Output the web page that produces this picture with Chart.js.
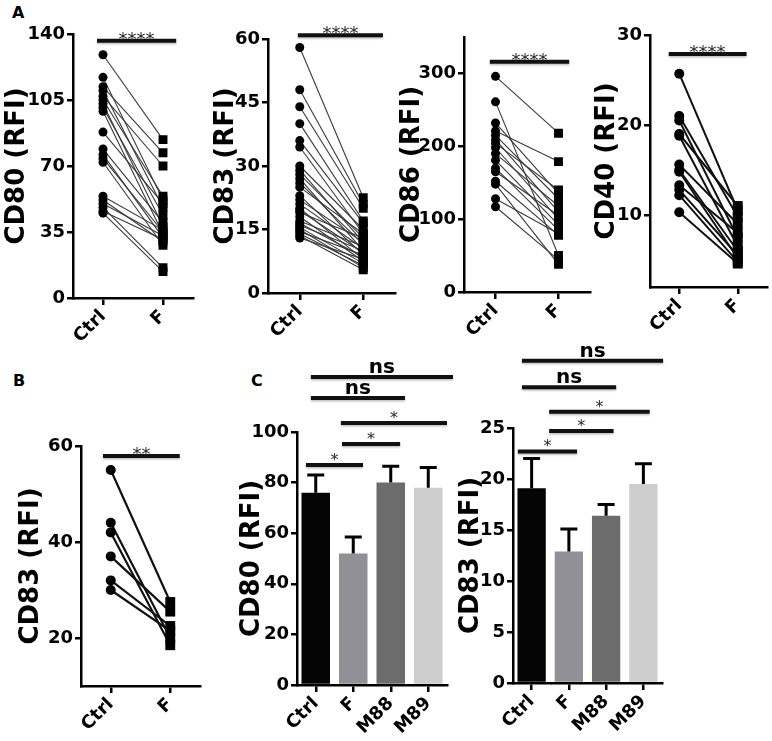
<!DOCTYPE html>
<html>
<head>
<meta charset="utf-8">
<title>RFI panels</title>
<script src="https://cdn.jsdelivr.net/npm/chart.js@4.4.1/dist/chart.umd.min.js"></script>
<style>
  body { margin: 0; background: #fff; width: 772px; height: 741px; position: relative; overflow: hidden; }
  canvas { position: absolute; }
  .tag { position: absolute; font: bold 16px 'DejaVu Sans', sans-serif; color: #000; }
</style>
</head>
<body>
<div class="tag" style="left:12px;top:3px">A</div>
<div class="tag" style="left:13px;top:371px">B</div>
<div class="tag" style="left:251px;top:371px">C</div>

<canvas id="a1"></canvas>
<canvas id="a2"></canvas>
<canvas id="a3"></canvas>
<canvas id="a4"></canvas>
<canvas id="b1"></canvas>
<canvas id="c1"></canvas>
<canvas id="c2"></canvas>

<script>
// ---- data ----
const pairLabels = ['Ctrl', 'F'];
const groupLabels = ['Ctrl', 'F', 'M88', 'M89'];

const cd80Ctrl = [129, 117, 112, 110, 107, 105, 103, 101, 99, 88, 79, 76, 74, 72, 54, 52, 50, 48, 46, 45];
const cd80F    = [84, 52, 77, 48, 70, 54, 38, 44, 34, 50, 40, 32, 35, 28, 36, 30, 33, 16, 31, 14];

const cd83Ctrl = [58, 48, 44, 40, 36, 34.5, 30, 29, 28, 27, 26, 25, 23, 22, 21, 20, 19.5, 19, 18, 17, 16.5, 16, 15.5, 15, 14.5, 14, 13.5, 13];
const cd83F    = [22.5, 21, 20, 17, 16.5, 14, 15, 12, 13, 10, 11.5, 14, 9, 12, 10.5, 8, 9.5, 13, 7.5, 11, 8.5, 10, 7, 6, 9, 6.5, 5.5, 8];

const cd86Ctrl = [296, 261, 232, 221, 215, 209, 204, 198, 190, 181, 170, 165, 152, 148, 128, 117];
const cd86F    = [218, 50, 135, 179, 128, 110, 140, 100, 118, 92, 85, 105, 78, 38, 80, 44];

const cd40Ctrl = [25.7, 21, 20.5, 19, 18.8, 15.6, 15, 14.8, 13.3, 12.8, 12.2, 10.3];
const cd40F    = [10.5, 9.8, 7.5, 11, 6.5, 9, 6, 5.2, 8, 5.5, 4.8, 4.6];

const cd83bCtrl = [55, 44, 42, 37, 32, 30];
const cd83bF    = [27.5, 20, 18.5, 25.5, 22.5, 21.5];

const cd80Mean = [76, 52, 80, 78];
const cd80Sem  = [7, 6.5, 6.5, 8];
const cd83Mean = [19.1, 12.9, 16.4, 19.5];
const cd83Sem  = [2.9, 2.2, 1.1, 2.0];

const cd80Ticks  = [0, 35, 70, 105, 140];
const cd83Ticks  = [0, 15, 30, 45, 60];
const cd86Ticks  = [0, 100, 200, 300];
const cd40Ticks  = [10, 20, 30];
const cd83bTicks = [20, 40, 60];
const cCd80Ticks = [0, 20, 40, 60, 80, 100];
const cCd83Ticks = [0, 5, 10, 15, 20, 25];

const pairSig = ['****', '****', '****', '****', '**'];
const groupSig = ['ns', 'ns', '*', '*', '*'];

// ---- look ----
const FONT = "'DejaVu Sans', sans-serif";
const TITLE_SIZE = 26;
const TICK_SIZE = 18;
const X_H = 50;      // height kept for rotated x labels
const PAD_R = 12;
const barColors = ['#050505', '#909096', '#6c6c6c', '#cecece'];

// significance bars, drawn through the scales
const sigPlugin = {
  id: 'sig',
  afterDraw(chart, args, opts) {
    const bars = opts.bars || [];
    const {ctx, scales: {x, y}} = chart;
    ctx.save();
    bars.forEach(b => {
      const x0 = x.getPixelForValue(b.from);
      const x1 = x.getPixelForValue(b.to);
      const py = y.getPixelForValue(b.at);
      ctx.strokeStyle = '#111';
      ctx.lineWidth = 4;
      ctx.shadowColor = 'rgba(0,0,0,0.25)';
      ctx.shadowBlur = 2;
      ctx.shadowOffsetY = 1.5;
      ctx.beginPath();
      ctx.moveTo(x0, py);
      ctx.lineTo(x1, py);
      ctx.stroke();
      ctx.shadowColor = 'transparent';
      const isStar = b.label.indexOf('*') === 0;
      ctx.fillStyle = isStar ? '#2a2a2a' : '#000';
      ctx.font = isStar ? (opts.starFont || ('16px ' + FONT)) : ('bold 20px ' + FONT);
      ctx.textAlign = 'center';
      ctx.textBaseline = 'alphabetic';
      ctx.fillText(b.label, (x0 + x1) / 2, py + (isStar ? (opts.starDy || 0) : -4));
    });
    ctx.restore();
  }
};

// error bars (mean + SEM) on top of each bar
const errPlugin = {
  id: 'err',
  afterDatasetsDraw(chart, args, opts) {
    if (!opts.sem) return;
    const {ctx, scales: {y}} = chart;
    const meta = chart.getDatasetMeta(0);
    const means = chart.data.datasets[0].data;
    ctx.save();
    ctx.strokeStyle = '#000';
    ctx.lineWidth = 3;
    meta.data.forEach((bar, i) => {
      const top = y.getPixelForValue(means[i] + opts.sem[i]);
      ctx.beginPath();
      ctx.moveTo(bar.x, bar.y);
      ctx.lineTo(bar.x, top);
      ctx.moveTo(bar.x - 8.5, top);
      ctx.lineTo(bar.x + 8.5, top);
      ctx.stroke();
    });
    ctx.restore();
  }
};

function yScale(min, max, ticks, title, width) {
  return {
    min: min,
    max: max,
    afterBuildTicks: s => { s.ticks = ticks.map(v => ({value: v})); },
    afterFit: s => { s.width = width; },
    border: {color: '#000', width: 2.5},
    grid: {drawOnChartArea: false, drawTicks: true, tickLength: 6, color: '#000', lineWidth: 2.5},
    ticks: {color: '#000', padding: 2, font: {family: FONT, size: TICK_SIZE, weight: 'bold'}},
    title: {display: true, text: title, color: '#000', padding: 0,
            font: {family: FONT, size: TITLE_SIZE, weight: 'bold', lineHeight: 1}}
  };
}

function xScale() {
  return {
    type: 'category',
    offset: true,
    afterFit: s => { s.height = X_H; },
    border: {color: '#000', width: 2.5},
    grid: {offset: false, drawOnChartArea: false, drawTicks: true, tickLength: 7, color: '#000', lineWidth: 2.5},
    ticks: {color: '#000', padding: 1, autoSkip: false, minRotation: 45, maxRotation: 45,
            font: {family: FONT, size: TICK_SIZE, weight: 'bold'}}
  };
}

// put a canvas so its plot area lands on the given axis box
function place(id, box) {
  const yW = box.axisX - box.titleX + TITLE_SIZE / 2;
  const c = document.getElementById(id);
  c.width = yW + (box.axisRight - box.axisX) + PAD_R;
  c.height = box.bottom - box.canvasTop + X_H;
  c.style.left = (box.axisX - yW) + 'px';
  c.style.top = box.canvasTop + 'px';
  return {ctx: c, yW: yW, padTop: box.top - box.canvasTop};
}

function pairChart(id, box, ctrl, f, ymin, ymax, ticks, title, sig, look) {
  const p = place(id, box);
  const datasets = [
    {data: ctrl.map(v => ({x: 'Ctrl', y: v})), showLine: false, pointStyle: 'circle',
     pointRadius: look.r, pointBackgroundColor: '#000', pointBorderWidth: 0},
    {data: f.map(v => ({x: 'F', y: v})), showLine: false, pointStyle: 'rect',
     pointRadius: look.r * 1.4, pointBackgroundColor: '#000', pointBorderWidth: 0}
  ];
  ctrl.forEach((c, i) => {
    datasets.push({data: [c, f[i]], borderColor: look.line, borderWidth: look.lw, pointRadius: 0, fill: false});
  });
  new Chart(p.ctx, {
    type: 'line',
    data: {labels: pairLabels, datasets: datasets},
    options: {
      responsive: false,
      animation: false,
      layout: {padding: {top: p.padTop, right: PAD_R, left: 0, bottom: 0}},
      scales: {x: xScale(), y: yScale(ymin, ymax, ticks, title, p.yW)},
      plugins: {legend: {display: false}, tooltip: {enabled: false},
                sig: {bars: [sig], starFont: '18px ' + FONT, starDy: 4}}
    },
    plugins: [sigPlugin]
  });
}

function barChart(id, box, means, sem, ymax, ticks, title, sig) {
  const p = place(id, box);
  new Chart(p.ctx, {
    type: 'bar',
    data: {labels: groupLabels, datasets: [{data: means, backgroundColor: barColors,
           barPercentage: 0.76, categoryPercentage: 1}]},
    options: {
      responsive: false,
      animation: false,
      layout: {padding: {top: p.padTop, right: PAD_R, left: 0, bottom: 0}},
      scales: {x: xScale(), y: yScale(0, ymax, ticks, title, p.yW)},
      plugins: {legend: {display: false}, tooltip: {enabled: false},
                err: {sem: sem},
                sig: {bars: sig, starFont: '16px ' + FONT, starDy: 0}}
    },
    plugins: [errPlugin, sigPlugin]
  });
}

// panel A
pairChart('a1', {axisX: 73, axisRight: 193, top: 34, bottom: 298, titleX: 17, canvasTop: 0},
  cd80Ctrl, cd80F, 0, 140, cd80Ticks, 'CD80 (RFI)',
  {from: -0.1, to: 1.22, at: 136.4, label: pairSig[0]}, {r: 4.5, lw: 1.1, line: '#3a3a3a'});
pairChart('a2', {axisX: 268, axisRight: 395, top: 39, bottom: 293, titleX: 226, canvasTop: 0},
  cd83Ctrl, cd83F, 0, 60, cd83Ticks, 'CD83 (RFI)',
  {from: -0.03, to: 1.31, at: 60.9, label: pairSig[1]}, {r: 4.5, lw: 1.1, line: '#3a3a3a'});
pairChart('a3', {axisX: 464, axisRight: 590, top: 37, bottom: 292, titleX: 412, canvasTop: 0},
  cd86Ctrl, cd86F, 0, 350, cd86Ticks, 'CD86 (RFI)',
  {from: -0.09, to: 1.17, at: 316, label: pairSig[2]}, {r: 4.5, lw: 1.1, line: '#3a3a3a'});
pairChart('a4', {axisX: 650, axisRight: 767, top: 35, bottom: 287, titleX: 607, canvasTop: 0},
  cd40Ctrl, cd40F, 2, 30, cd40Ticks, 'CD40 (RFI)',
  {from: -0.18, to: 1.15, at: 27.9, label: pairSig[3]}, {r: 5, lw: 2, line: '#111'});

// panel B
pairChart('b1', {axisX: 81, axisRight: 200, top: 446, bottom: 686, titleX: 31, canvasTop: 340},
  cd83bCtrl, cd83bF, 10, 60, cd83bTicks, 'CD83 (RFI)',
  {from: -0.13, to: 1.16, at: 57.9, label: pairSig[4]}, {r: 5, lw: 2.2, line: '#111'});

// panel C
barChart('c1', {axisX: 297, axisRight: 447, top: 432, bottom: 685, titleX: 252, canvasTop: 340},
  cd80Mean, cd80Sem, 100, cCd80Ticks, 'CD80 (RFI)', [
    {from: -0.13, to: 3.66, at: 121.7, label: groupSig[0]},
    {from: -0.13, to: 2.38, at: 113.4, label: groupSig[1]},
    {from: 0.67, to: 3.5, at: 103.6, label: groupSig[2]},
    {from: 0.7, to: 2.25, at: 95.3, label: groupSig[3]},
    {from: -0.26, to: 1.26, at: 87, label: groupSig[4]}
  ]);
barChart('c2', {axisX: 513, axisRight: 662, top: 428, bottom: 683, titleX: 471, canvasTop: 340},
  cd83Mean, cd83Sem, 25, cCd83Ticks, 'CD83 (RFI)', [
    {from: -0.26, to: 3.53, at: 31.6, label: groupSig[0]},
    {from: -0.26, to: 2.27, at: 29.0, label: groupSig[1]},
    {from: 0.47, to: 3.17, at: 26.6, label: groupSig[2]},
    {from: 0.47, to: 2.2, at: 24.7, label: groupSig[3]},
    {from: -0.37, to: 1.22, at: 22.7, label: groupSig[4]}
  ]);
</script>
</body>
</html>
